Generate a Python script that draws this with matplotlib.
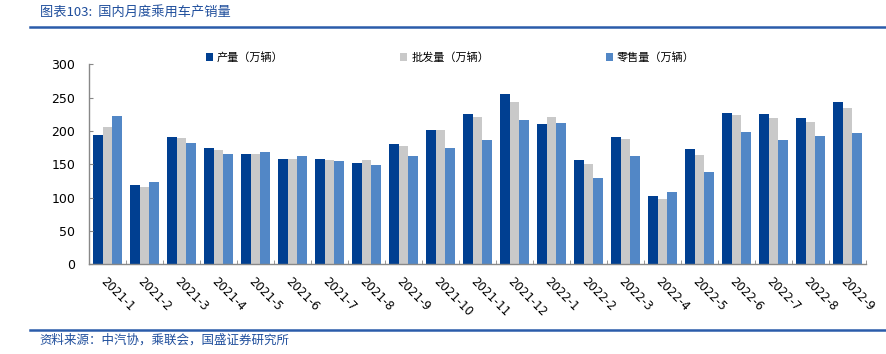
import numpy as np
import matplotlib
matplotlib.use("Agg")
import matplotlib.pyplot as plt
from matplotlib.lines import Line2D

plt.rcParams['font.family'] = ['Noto Sans CJK SC', 'DejaVu Sans']

# 数据（万辆）
months = ['2021-1', '2021-2', '2021-3', '2021-4', '2021-5', '2021-6', '2021-7',
          '2021-8', '2021-9', '2021-10', '2021-11', '2021-12', '2022-1', '2022-2',
          '2022-3', '2022-4', '2022-5', '2022-6', '2022-7', '2022-8', '2022-9']
production = [194, 119, 191, 175, 165, 158, 158, 152, 180, 202, 226, 256, 211,
              156, 191, 102, 173, 227, 225, 219, 244]
wholesale = [206, 116, 189, 172, 166, 158, 156, 156, 177, 202, 221, 244, 221,
             150, 188, 98, 164, 224, 219, 214, 235]
retail = [223, 123, 182, 166, 168, 162, 155, 149, 162, 175, 186, 216, 212,
          130, 162, 108, 139, 198, 186, 192, 197]
series_names = ['产量（万辆）', '批发量（万辆）', '零售量（万辆）']

c_dark = '#003F91'
c_gray = '#C9C9C9'
c_light = '#5287C6'
c_title = '#1F4E9C'

fig = plt.figure(figsize=(8.86, 3.54), dpi=100)
ax = fig.add_axes([0.1005, 0.2534, 0.877, 0.5650])

x = np.arange(len(months))
w = 0.26
ax.bar(x - w, production, w, color=c_dark, label=series_names[0])
ax.bar(x, wholesale, w, color=c_gray, label=series_names[1])
ax.bar(x + w, retail, w, color=c_light, label=series_names[2])

ax.set_xlim(-0.5, len(months) - 0.5)
ax.set_ylim(0, 300)
ax.set_yticks(range(0, 301, 50))
ax.tick_params(axis='y', direction='in', length=3, pad=10, labelsize=9,
               color='#888888')
for lb in ax.get_yticklabels():
    lb.set_family('DejaVu Sans')

ax.set_xticks(x)
ax.set_xticklabels(months, rotation=-45, ha='left', va='top',
                   rotation_mode='anchor', fontsize=8.5, family='DejaVu Sans')
ax.tick_params(axis='x', length=0, pad=8)
ax.set_xticks(np.arange(-0.5, len(months), 1), minor=True)
ax.tick_params(axis='x', which='minor', direction='in', length=3,
               color='#888888')

for s in ['top', 'right']:
    ax.spines[s].set_visible(False)
for s in ['left', 'bottom']:
    ax.spines[s].set_color('#888888')
    ax.spines[s].set_linewidth(1.0)

leg = ax.legend(ncol=3, loc='center left', bbox_to_anchor=(0.232, 0.838),
                bbox_transform=fig.transFigure, frameon=False, fontsize=8,
                handlelength=0.65, handleheight=0.65, handletextpad=0.35,
                columnspacing=10.5, borderaxespad=0, borderpad=0)

# 标题与来源
fig.text(0.045, 0.963, '图表103:  国内月度乘用车产销量', color=c_title,
         fontsize=9.5, va='center', ha='left', style='italic')
fig.add_artist(Line2D([0.034, 1.0], [0.925, 0.925], color='#2B5CAA', lw=1.8))
fig.add_artist(Line2D([0.034, 1.0], [0.068, 0.068], color='#2B5CAA', lw=1.8))
fig.text(0.045, 0.040, '资料来源：中汽协，乘联会，国盛证券研究所', color=c_title,
         fontsize=9, va='center', ha='left', style='italic')

fig.savefig('out.png', dpi=100)
